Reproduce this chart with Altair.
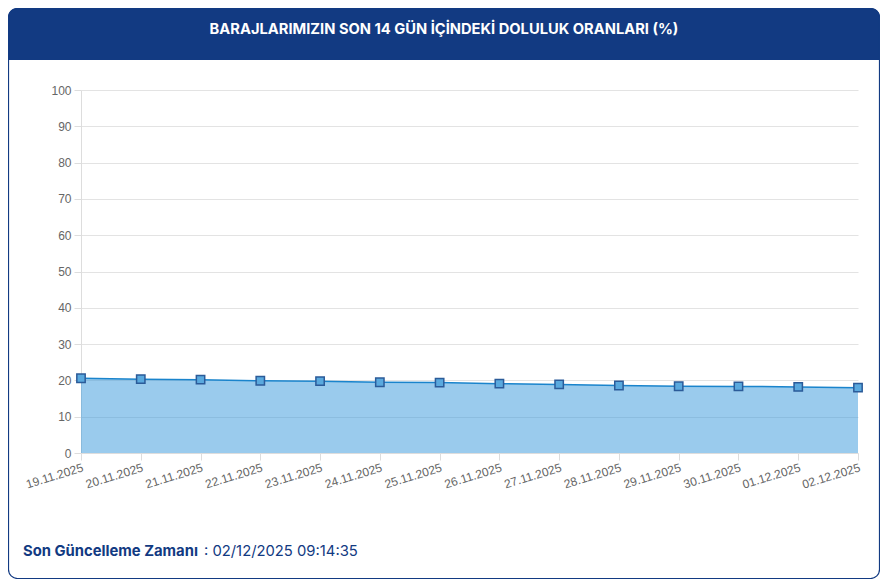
import altair as alt
import pandas as pd

dates = ["19.11.2025", "20.11.2025", "21.11.2025", "22.11.2025", "23.11.2025",
         "24.11.2025", "25.11.2025", "26.11.2025", "27.11.2025", "28.11.2025",
         "29.11.2025", "30.11.2025", "01.12.2025", "02.12.2025"]
values = [20.6, 20.35, 20.2, 19.9, 19.8, 19.5, 19.4, 19.1, 18.9, 18.6,
          18.4, 18.35, 18.2, 18.0]
y_ticks = [0, 10, 20, 30, 40, 50, 60, 70, 80, 90, 100]
title_text = "BARAJLARIMIZIN SON 14 GÜN İÇİNDEKİ DOLULUK ORANLARI (%)"
footer_label = "Son Güncelleme Zamanı"
footer_value = ": 02/12/2025 09:14:35"

df = pd.DataFrame({"date": dates, "value": values})

W, H = 777, 363
PL, PT = 73, 82
TOTAL_W, TOTAL_H = 872, 571
NAVY = "#123a82"

x_enc = alt.X("date:N", sort=dates, title=None,
              scale=alt.Scale(type="point", padding=0),
              axis=alt.Axis(labelAngle=-17, labelAlign="right", labelBaseline="top",
                            labelColor="#666666", labelFontSize=12,
                            labelFont="Liberation Sans", tickSize=7, tickColor="#dddddd",
                            domainColor="#dddddd", gridColor="#e3e3e3", labelPadding=2,
                            labelOverlap=False))
y_enc = alt.Y("value:Q", title=None,
              scale=alt.Scale(domain=[0, 100], nice=False),
              axis=alt.Axis(values=y_ticks, labelColor="#666666", labelOverlap=False,
                            labelFontSize=12, labelFont="Liberation Sans", tickSize=7,
                            tickColor="#dddddd", domainColor="#dddddd", gridColor="#e3e3e3",
                            labelPadding=3))

base = alt.Chart(df)
area = base.mark_area(color="#3598dc", opacity=0.5, line=False).encode(x=x_enc, y=y_enc)
line = base.mark_line(color="#1a84cc", strokeWidth=1.5).encode(x=x_enc, y=y_enc)
pts = base.mark_point(shape="square", size=70, filled=True, fill="#5aa9de",
                      stroke="#2b5b99", strokeWidth=1.5, opacity=1).encode(x=x_enc, y=y_enc)

one = alt.Data(values=[{"k": 1}])
header = alt.Chart(one).mark_rect(color=NAVY, cornerRadiusTopLeft=9, cornerRadiusTopRight=9).encode(
    x=alt.value(-PL), x2=alt.value(TOTAL_W - PL), y=alt.value(-PT), y2=alt.value(-30))
card = alt.Chart(one).mark_rect(fill=None, stroke=NAVY, strokeWidth=1.2, cornerRadius=9).encode(
    x=alt.value(-PL + 0.5), x2=alt.value(TOTAL_W - PL - 0.5),
    y=alt.value(-PT + 0.5), y2=alt.value(TOTAL_H - PT - 0.5))
title = alt.Chart(one).mark_text(text=title_text, color="white", font="Inter", fontSize=14.7,
                                 fontWeight="bold", align="center", baseline="middle").encode(
    x=alt.value(363), y=alt.value(-60))
foot1 = alt.Chart(one).mark_text(text=footer_label, color=NAVY, font="Inter", fontSize=14.8,
                                 fontWeight="bold", align="left", baseline="middle").encode(
    x=alt.value(-58), y=alt.value(462))
foot2 = alt.Chart(one).mark_text(text=footer_value, color=NAVY, font="Inter", fontSize=14.8,
                                 fontWeight="normal", align="left", baseline="middle").encode(
    x=alt.value(123), y=alt.value(462))

chart = alt.layer(header, card, area, line, pts, title, foot1, foot2).properties(
    width=W, height=H,
    autosize=alt.AutoSizeParams(type="none"),
    padding={"left": PL, "top": PT, "right": TOTAL_W - PL - W, "bottom": TOTAL_H - PT - H},
).configure_view(stroke=None)

chart.save("out.html", embed_options={"renderer": "svg", "actions": False})
